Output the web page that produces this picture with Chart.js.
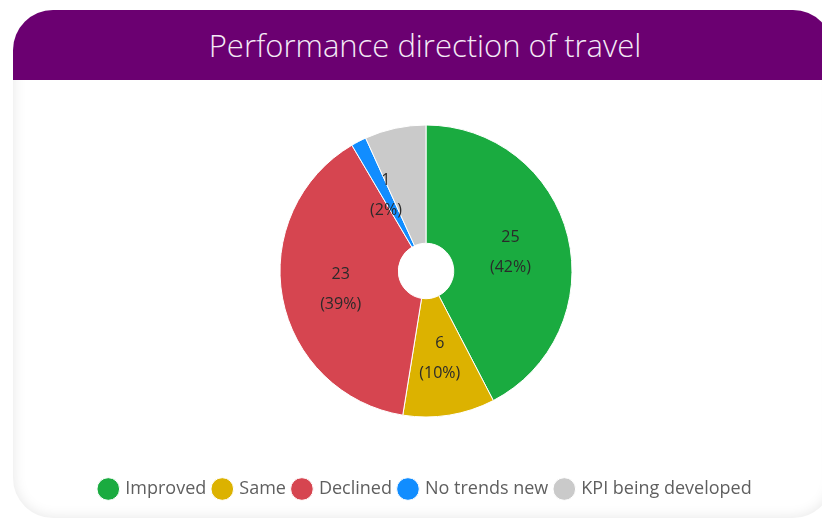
<!DOCTYPE html>
<html>
<head>
<meta charset="utf-8">
<script src="https://cdn.jsdelivr.net/npm/chart.js@4/dist/chart.umd.min.js"></script>
<style>
  html, body { margin:0; padding:0; background:#ffffff; width:822px; height:524px; overflow:hidden; }
  #card { position:absolute; left:13px; top:10px; width:820px; height:508px; border-radius:40px; background:#ffffff;
          box-shadow: inset 0 0 14px rgba(0,0,0,0.10); overflow:hidden; }
  #header { position:absolute; left:0; top:0; width:100%; height:70px; background:#6b0071;
            color:#f4eaf6; font-family:"Open Sans", sans-serif; font-weight:300; font-size:31px;
            text-align:center; line-height:70px; box-sizing:border-box; padding-left:4px; }
  #wrap { position:absolute; left:30px; top:70px; width:792px; height:438px; }
</style>
</head>
<body>
<div id="card"><div id="header">Performance direction of travel</div></div>
<div id="wrap"><canvas id="c" width="792" height="438"></canvas></div>
<script>
const categories = ["Improved", "Same", "Declined", "No trends new", "KPI being developed"];
const counts = [25, 6, 23, 1, 4];
const sliceColors = ["#1aab40", "#dcb200", "#d64550", "#118dff", "#cacaca"];

const sliceLabels = {
  id: "sliceLabels",
  afterDatasetsDraw(chart) {
    const ctx = chart.ctx;
    const meta = chart.getDatasetMeta(0);
    const data = chart.data.datasets[0].data;
    const total = data.reduce((a, b) => a + b, 0);
    ctx.save();
    ctx.font = "16px 'Open Sans', sans-serif";
    ctx.fillStyle = "#2a2a2a";
    ctx.textAlign = "center";
    ctx.textBaseline = "middle";
    const boxes = [];
    meta.data.forEach((arc, i) => {
      const p = arc.tooltipPosition();
      const l1 = String(data[i]);
      const l2 = "(" + Math.round(data[i] / total * 100) + "%)";
      const w = Math.max(ctx.measureText(l1).width, ctx.measureText(l2).width);
      const box = { x0: p.x - w / 2, x1: p.x + w / 2, y0: p.y - 24, y1: p.y + 24 };
      if (boxes.some(b => !(box.x1 < b.x0 || box.x0 > b.x1 || box.y1 < b.y0 || box.y0 > b.y1))) return;
      boxes.push(box);
      ctx.fillText(l1, p.x, p.y - 13);
      ctx.fillText(l2, p.x, p.y + 17);
    });
    ctx.restore();
  }
};

new Chart(document.getElementById("c"), {
  type: "doughnut",
  data: {
    labels: categories,
    datasets: [{ data: counts, backgroundColor: sliceColors, borderColor: "#ffffff", borderWidth: 1, radius: 146 }]
  },
  options: {
    responsive: false,
    animation: false,
    cutout: "19%",
    layout: { padding: { top: 0, bottom: 0 } },
    plugins: {
      tooltip: { enabled: false },
      legend: {
        position: "bottom",
        labels: {
          usePointStyle: true, pointStyle: "circle", boxWidth: 16, boxHeight: 16,
          padding: 8, color: "#5f5f5f",
          font: { family: "'Open Sans', sans-serif", size: 18 }
        }
      }
    }
  },
  plugins: [sliceLabels]
});
</script>
</body>
</html>
